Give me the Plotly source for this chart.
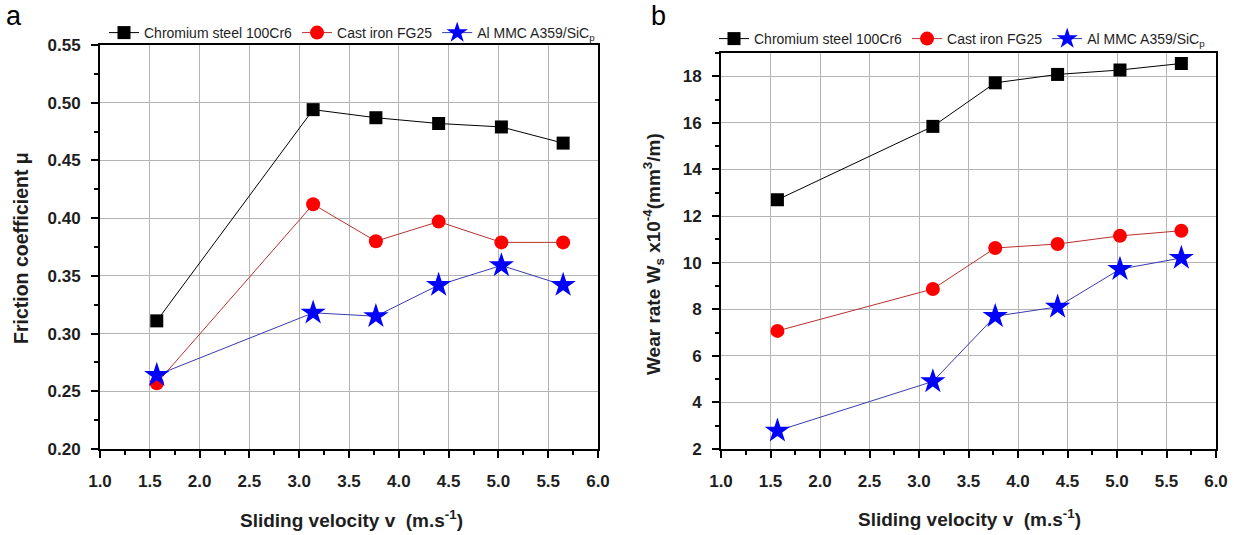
import plotly.graph_objects as go

# ---------------- data ----------------
velocity = [1.57, 3.14, 3.77, 4.40, 5.03, 5.65]

series_names = ["Chromium steel 100Cr6", "Cast iron FG25", "Al MMC A359/SiC<sub>p</sub>"]

friction_chromium = [0.311, 0.494, 0.487, 0.482, 0.479, 0.465]
friction_castiron = [0.257, 0.412, 0.380, 0.397, 0.379, 0.379]
friction_almmc = [0.264, 0.318, 0.315, 0.342, 0.359, 0.342]

wear_chromium = [12.7, 15.85, 17.72, 18.08, 18.27, 18.55]
wear_castiron = [7.07, 8.87, 10.63, 10.8, 11.15, 11.37]
wear_almmc = [2.78, 4.9, 7.7, 8.1, 9.72, 10.2]

x_ticks = [1.0, 1.5, 2.0, 2.5, 3.0, 3.5, 4.0, 4.5, 5.0, 5.5, 6.0]
friction_ticks = [0.20, 0.25, 0.30, 0.35, 0.40, 0.45, 0.50, 0.55]
wear_ticks = [2, 4, 6, 8, 10, 12, 14, 16, 18]

# ---------------- styles ----------------
W, H = 1234, 535
FONT = "Liberation Sans Narrow, Arial Narrow, Liberation Sans, Arial, sans-serif"
TXT = "#1e1e1e"

styles = [
    dict(line=dict(color="#000000", width=1),
         marker=dict(symbol="square", size=13, color="#000000")),
    dict(line=dict(color="#b83030", width=1),
         marker=dict(symbol="circle", size=14, color="#ff0000")),
    dict(line=dict(color="#3a3ab0", width=1),
         marker=dict(symbol="star", size=19, color="#0000ff")),
]

fig = go.Figure()

for name, ys, st in zip(series_names, [friction_chromium, friction_castiron, friction_almmc], styles):
    fig.add_trace(go.Scatter(x=velocity, y=ys, mode="lines+markers", name=name,
                             line=st["line"], marker=st["marker"],
                             xaxis="x", yaxis="y", legend="legend"))

for name, ys, st in zip(series_names, [wear_chromium, wear_castiron, wear_almmc], styles):
    fig.add_trace(go.Scatter(x=velocity, y=ys, mode="lines+markers", name=name,
                             line=st["line"], marker=st["marker"],
                             xaxis="x2", yaxis="y2", legend="legend2"))

def px_x(p):
    return p / W

def px_y(p):
    return 1 - p / H

axis_common = dict(
    showline=True, linecolor="#000000", linewidth=2, mirror=True,
    showgrid=True, gridcolor="#b4b4b4", gridwidth=1,
    ticks="outside", ticklen=7, tickwidth=2, tickcolor="#000000",
    zeroline=False, automargin=False,
    tickfont=dict(family=FONT, size=17, color=TXT, weight="bold"),
)
x_common = dict(axis_common, ticklabelstandoff=9)
y_common = dict(axis_common, ticklabelstandoff=7)

minor_common = dict(ticks="outside", ticklen=4, tickwidth=2, tickcolor="#000000", showgrid=False)

fig.update_layout(
    width=W, height=H,
    margin=dict(l=0, r=0, t=0, b=0, pad=0, autoexpand=False),
    paper_bgcolor="white", plot_bgcolor="white",
    showlegend=True,
    xaxis=dict(x_common, domain=[px_x(100), px_x(598)], range=[1.0, 6.0],
               tickvals=x_ticks, ticktext=[f"{v:.1f}" for v in x_ticks],
               minor=dict(minor_common, dtick=0.25, tick0=1.0),
               anchor="y"),
    yaxis=dict(y_common, domain=[px_y(449), px_y(45)], range=[0.20, 0.55],
               tickvals=friction_ticks, ticktext=[f"{v:.2f}" for v in friction_ticks],
               minor=dict(minor_common, dtick=0.025, tick0=0.2),
               anchor="x"),
    xaxis2=dict(x_common, domain=[px_x(721), px_x(1216)], range=[1.0, 6.0],
                tickvals=x_ticks, ticktext=[f"{v:.1f}" for v in x_ticks],
                minor=dict(minor_common, dtick=0.25, tick0=1.0),
                anchor="y2"),
    yaxis2=dict(y_common, domain=[px_y(449), px_y(53)], range=[2, 19],
                tickvals=wear_ticks, ticktext=[str(v) for v in wear_ticks],
                minor=dict(minor_common, dtick=1, tick0=2),
                anchor="x2"),
    legend=dict(orientation="h", x=px_x(104), xanchor="left", y=px_y(33), yanchor="middle",
                font=dict(family=FONT, size=14, color=TXT), bgcolor="rgba(0,0,0,0)",
                itemwidth=30, tracegroupgap=0),
    legend2=dict(orientation="h", x=px_x(714), xanchor="left", y=px_y(39), yanchor="middle",
                 font=dict(family=FONT, size=14, color=TXT), bgcolor="rgba(0,0,0,0)",
                 itemwidth=30, tracegroupgap=0),
)

def note(text, x, y, size, family=FONT, angle=0, color=TXT):
    return dict(text=text, x=px_x(x), y=px_y(y), xref="paper", yref="paper",
                xanchor="center", yanchor="middle", showarrow=False, textangle=angle,
                font=dict(family=family, size=size, color=color))

ann = [
    note("a", 14, 16, 27, family="Liberation Sans, Arial", color="#000000"),
    note("b", 658, 16, 27, family="Liberation Sans, Arial", color="#000000"),
    note("<b>Friction coefficient μ</b>", 21, 248, 19.5, family="Liberation Sans, Arial", angle=-90),
    note("<b>Wear rate W<sub>s</sub> x10<sup>-4</sup>(mm<sup>3</sup>/m)</b>", 654, 254, 19, angle=-90),
    note("<b>Sliding velocity v  (m.s<sup>-1</sup>)</b>", 351, 519, 19),
    note("<b>Sliding velocity v  (m.s<sup>-1</sup>)</b>", 969, 518, 19),
]
fig.update_layout(annotations=ann)

fig.write_html("out.html")
